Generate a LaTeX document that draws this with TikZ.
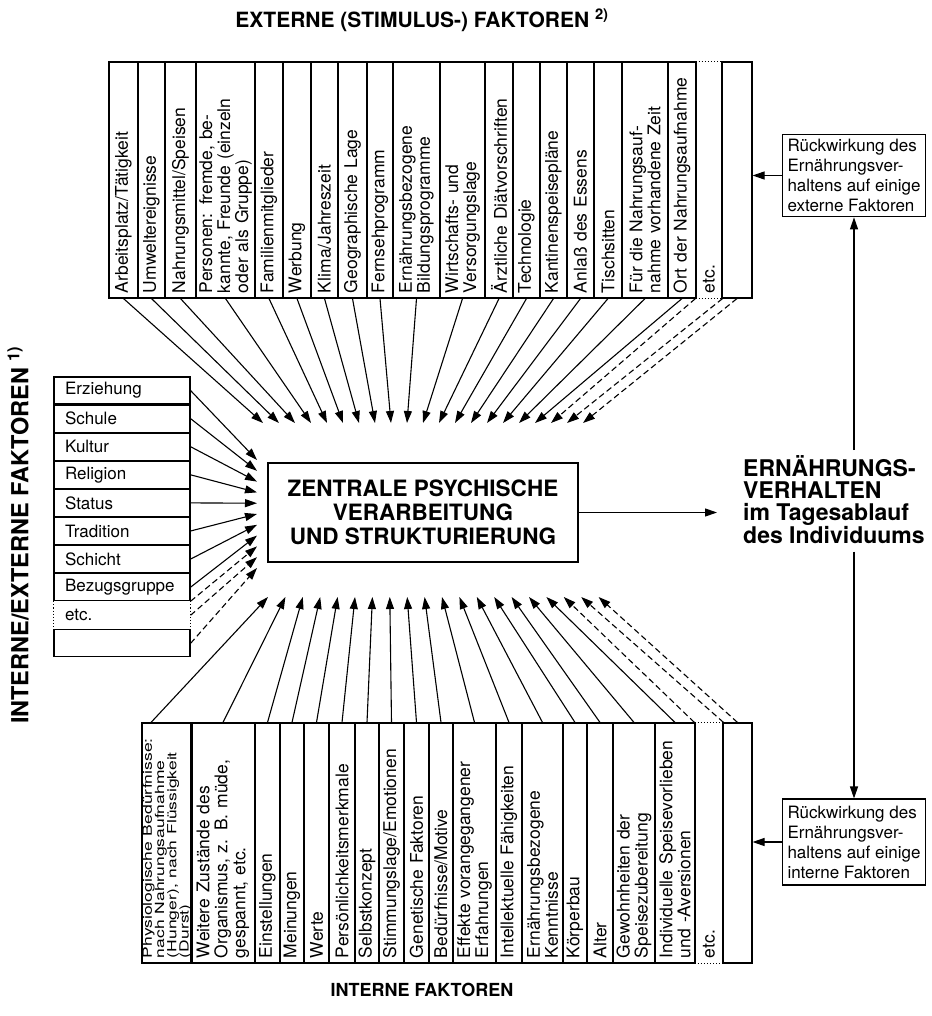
\documentclass[tikz,border=0pt]{standalone}
\usepackage{fontspec}
\setmainfont{TeX Gyre Heros}
\usetikzlibrary{arrows.meta,positioning}

\begin{document}
\begin{tikzpicture}[x=1pt,y=-1pt,
        obox/.style={draw,line width=1.1pt,rotate=90,align=left,inner xsep=5pt,inner ysep=1pt,
            text width=226pt,font=\fontsize{17.5}{18}\selectfont},
        ubox/.style={obox,text width=230pt},
        lbox/.style={draw,line width=1.1pt,minimum width=136pt,minimum height=27pt,text width=114pt,
            inner xsep=11pt,inner ysep=0pt,align=left,font=\fontsize{17}{18}\selectfont},
        rbox/.style={draw,line width=1.1pt,align=left,inner sep=5pt,minimum width=142pt,
            font=\fontsize{17}{20}\selectfont},
        title/.style={font=\fontsize{21}{24}\selectfont\bfseries},
        arr/.style={line width=1.1pt,-{Triangle[length=12pt,width=8pt]}},
        darr/.style={arr,dash pattern=on 6pt off 3.5pt}
    ]
    \useasboundingbox (0,0) rectangle (931,1016);

    \node[title] (ext) at (422,20) {EXTERNE (STIMULUS-) FAKTOREN \textsuperscript{2)}};
    \node[title,font=\fontsize{18}{20}\selectfont\bfseries] (int) at (422,990) {INTERNE FAKTOREN};
    \node[title,rotate=90,font=\fontsize{23.5}{26}\selectfont\bfseries] (intext) at (18,535) {INTERNE/EXTERNE FAKTOREN \textsuperscript{1)}};

    % externe Faktoren (oben), Text laeuft von unten nach oben
    \node[obox,minimum height=29pt] (t1) at (123.5,180) {Arbeitsplatz/Tätigkeit};
    \node[obox,minimum height=27pt] (t2) at (151.5,180) {Umweltereignisse};
    \node[obox,minimum height=31pt] (t3) at (180.5,180) {Nahrungsmittel/Speisen};
    \node[obox,minimum height=59pt] (t4) at (225.5,180) {Personen: fremde, be-\\kannte, Freunde (einzeln\\oder als Gruppe)};
    \node[obox,minimum height=28pt] (t5) at (269,180) {Familienmitglieder};
    \node[obox,minimum height=28pt] (t6) at (297,180) {Werbung};
    \node[obox,minimum height=27pt] (t7) at (324.5,180) {Klima/Jahreszeit};
    \node[obox,minimum height=29pt] (t8) at (352.5,180) {Geographische Lage};
    \node[obox,minimum height=26pt] (t9) at (380,180) {Fernsehprogramm};
    \node[obox,minimum height=47pt] (t10) at (416.5,180) {Ernährungsbezogene\\Bildungsprogramme};
    \node[obox,minimum height=45pt] (t11) at (462.5,180) {Wirtschafts- und\\Versorgungslage};
    \node[obox,minimum height=28pt] (t12) at (499,180) {Ärztliche Diätvorschriften};
    \node[obox,minimum height=27pt] (t13) at (526.5,180) {Technologie};
    \node[obox,minimum height=27pt] (t14) at (553.5,180) {Kantinenspeisepläne};
    \node[obox,minimum height=27pt] (t15) at (580.5,180) {Anlaß des Essens};
    \node[obox,minimum height=28pt] (t16) at (608,180) {Tischsitten};
    \node[obox,minimum height=46pt] (t17) at (645,180) {Für die Nahrungsauf-\\nahme vorhandene Zeit};
    \node[obox,minimum height=28pt] (t18) at (682,180) {Ort der Nahrungsaufnahme};
    \node[obox,draw=none,minimum height=26pt] (t19) at (709,180) {etc.};
    \node[obox,minimum height=30pt] (t20) at (737,180) {};
    \draw[dotted,line width=1.1pt] (t19.north east) -- (t19.south east)
        (t19.north west) -- (t19.south west);

    % interne Faktoren (unten)
    \node[ubox,minimum height=67pt,yscale=0.72,font=\fontsize{17.5}{17}\selectfont] (b1) at (167,843) {Physiologische Bedürfnisse:\\nach Nahrungsaufnahme\\(Hunger), nach Flüssigkeit\\(Durst)};
    \node[ubox,minimum height=64pt] (b2) at (223,843) {Weitere Zustände des\\Organismus, z. B. müde,\\gespannt, etc.};
    \node[ubox,minimum height=25pt] (b3) at (267.5,843) {Einstellungen};
    \node[ubox,minimum height=24pt] (b4) at (292,843) {Meinungen};
    \node[ubox,minimum height=25pt] (b5) at (316.5,843) {Werte};
    \node[ubox,minimum height=26pt] (b6) at (342,843) {Persönlichkeitsmerkmale};
    \node[ubox,minimum height=24pt] (b7) at (367,843) {Selbstkonzept};
    \node[ubox,minimum height=25pt] (b8) at (391.5,843) {Stimmungslage/Emotionen};
    \node[ubox,minimum height=25pt] (b9) at (416.5,843) {Genetische Faktoren};
    \node[ubox,minimum height=24pt] (b10) at (441,843) {Bedürfnisse/Motive};
    \node[ubox,minimum height=43pt] (b11) at (474.5,843) {Effekte vorangegangener\\Erfahrungen};
    \node[ubox,minimum height=26pt] (b12) at (509,843) {Intellektuelle Fähigkeiten};
    \node[ubox,minimum height=41pt] (b13) at (542.5,843) {Ernährungsbezogene\\Kenntnisse};
    \node[ubox,minimum height=24pt] (b14) at (575,843) {Körperbau};
    \node[ubox,minimum height=26pt] (b15) at (600,843) {Alter};
    \node[ubox,minimum height=42pt] (b16) at (634,843) {Gewohnheiten der\\Speisezubereitung};
    \node[ubox,minimum height=40pt] (b17) at (675,843) {Individuelle Speisevorlieben\\und -Aversionen};
    \node[ubox,draw=none,minimum height=28pt] (b18) at (709,843) {etc.};
    \node[ubox,minimum height=29pt] (b19) at (737.5,843) {};
    \draw[dotted,line width=1.1pt] (b18.north east) -- (b18.south east)
        (b18.north west) -- (b18.south west);

    % interne/externe Faktoren (links)
    \node[lbox] (l1) at (122,390.5) {Erziehung};
    \node[lbox,below=0pt of l1] (l2) {Schule};
    \node[lbox,below=0pt of l2] (l3) {Kultur};
    \node[lbox,below=0pt of l3] (l4) {Religion};
    \node[lbox,below=0pt of l4] (l5) {Status};
    \node[lbox,below=0pt of l5] (l6) {Tradition};
    \node[lbox,below=0pt of l6] (l7) {Schicht};
    \node[lbox,below=0pt of l7] (l8) {Bezugsgruppe};
    \node[lbox,draw=none,below=0pt of l8] (l9) {etc.};
    \node[lbox,below=0pt of l9] (l10) {};
    \draw[dotted,line width=1.1pt] (l9.north west) -- (l9.south west)
        (l9.north east) -- (l9.south east);

    \node[draw,line width=1.1pt,minimum width=310pt,minimum height=99pt,align=center,
        font=\fontsize{22.5}{24}\selectfont\bfseries] (zentral) at (423,512.5)
        {ZENTRALE PSYCHISCHE\\VERARBEITUNG\\UND STRUKTURIERUNG};
    \node[anchor=north west,align=left,inner sep=0pt,font=\fontsize{23}{22}\selectfont\bfseries]
        (verh) at (743,455) {ERNÄHRUNGS-\\VERHALTEN\\im Tagesablauf\\des Individuums};

    \node[rbox,minimum height=75pt] (rueckext) at (854,175.5) {Rückwirkung des\\Ernährungsver-\\haltens auf einige\\externe Faktoren};
    \node[rbox,minimum height=86pt] (rueckint) at (854,842) {Rückwirkung des\\Ernährungsver-\\haltens auf einige\\interne Faktoren};

    % Zielpunkte der Pfeile am zentralen Kasten
    \foreach \i in {1,...,21}
        \coordinate (ta\i) at ({247+16*\i},423);
    \foreach \i in {1,...,20}
        \coordinate (ba\i) at ({250.6+17.4*\i},597);
    \foreach \i in {1,...,11}
        \coordinate (la\i) at (257,{449.2+10.8*\i});

    \foreach \i in {1,...,18}
        \draw[arr] (t\i.west) -- (ta\i);
    \draw[darr] (t19.north west) -- (ta19);
    \draw[darr] (t19.south west) -- (ta20);
    \draw[darr] (t20.west) -- (ta21);

    \draw[arr] ([xshift=-16pt]b1.east) -- (ba1);
    \foreach \i in {2,...,17}
        \draw[arr] (b\i.east) -- (ba\i);
    \draw[darr] (b18.north east) -- (ba18);
    \draw[darr] (b18.south east) -- (ba19);
    \draw[darr] (b19.east) -- (ba20);

    \foreach \i in {1,...,8}
        \draw[arr] (l\i.east) -- (la\i);
    \draw[darr] (l9.north east) -- (la9);
    \draw[darr] (l9.east) -- (la10);
    \draw[darr] (l10.east) -- (la11);

    \draw[arr] (zentral.east) -- ([xshift=-26pt]zentral.east -| verh.west);
    \draw[arr,shorten <=5pt] (verh.north -| rueckext.south) -- (rueckext.south);
    \draw[arr,shorten <=8pt] (verh.south -| rueckint.north) -- (rueckint.north);
    \draw[arr] (rueckext.west) -- (rueckext.west -| t20.south);
    \draw[arr] (rueckint.west) -- (rueckint.west -| b19.south);
\end{tikzpicture}
\end{document}
